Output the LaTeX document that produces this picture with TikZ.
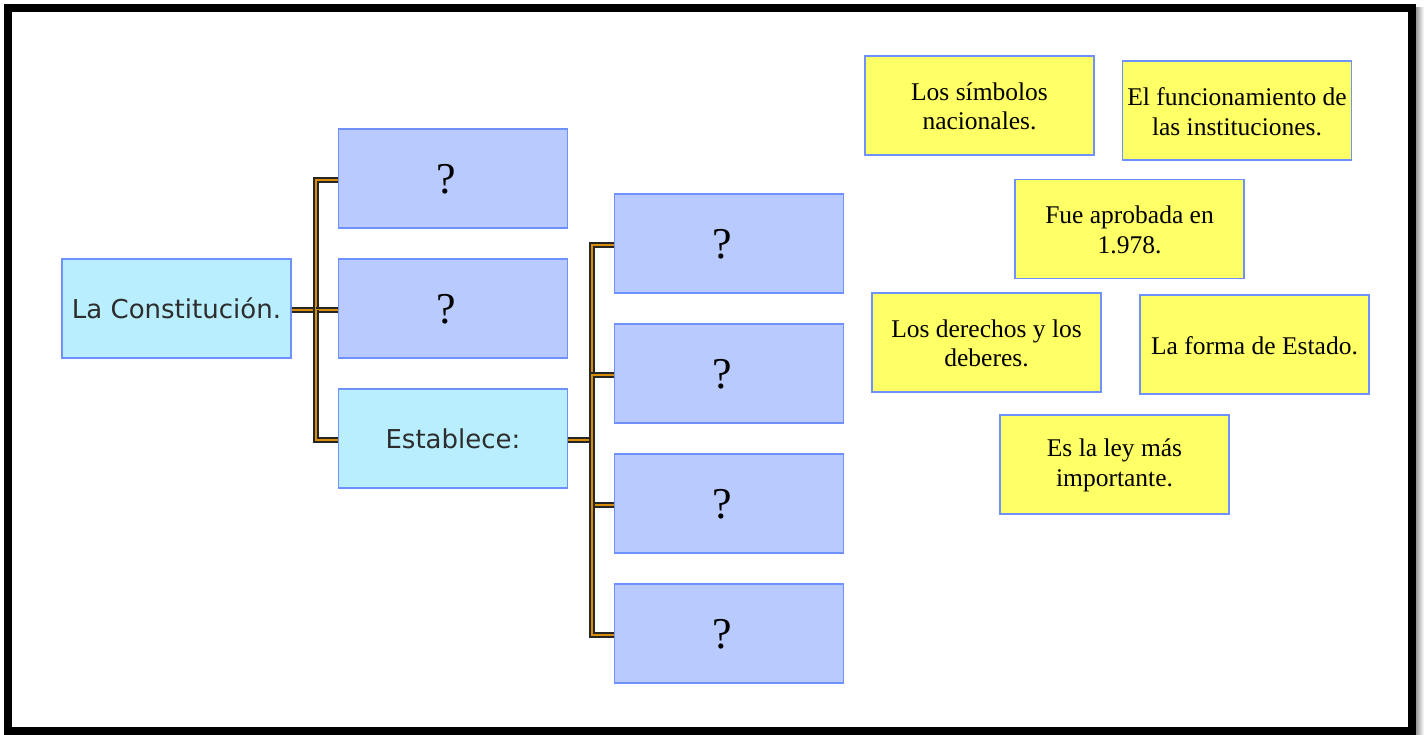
\documentclass[tikz,border=0pt]{standalone}
\usepackage{fontspec}
\setmainfont{Liberation Serif}
\newfontfamily\sansf{DejaVu Sans}
\definecolor{bordblue}{RGB}{110,145,255}
\definecolor{cyanfill}{RGB}{185,238,255}
\definecolor{lavfill}{RGB}{185,202,255}
\definecolor{yelfill}{RGB}{255,255,102}
\definecolor{txtgray}{RGB}{45,45,45}
\definecolor{linkorange}{RGB}{215,140,10}
\begin{document}
\begin{tikzpicture}[x=1pt,y=-1pt,
  box/.style={draw=bordblue, line width=1.3pt, minimum width=229pt, minimum height=99pt, inner sep=2pt, align=center, anchor=center},
  cyanbox/.style={box, fill=cyanfill, font=\sansf\fontsize{26}{30}\selectfont, text=txtgray},
  qbox/.style={box, fill=lavfill},
  qmark/.style={font=\fontsize{44}{48}\selectfont, inner sep=0pt, anchor=center},
  ybox/.style={box, fill=yelfill},
  ytext/.style={font=\fontsize{25.5}{29.5}\selectfont, align=center, inner sep=0pt, anchor=center},
  link/.style={draw=black!85, line width=1.5pt, double=linkorange, double distance=2.4pt}
]
\useasboundingbox (0,0) rectangle (1424,735);
\fill[white] (0,0) rectangle (1424,735);
\shade[left color=black!45, right color=white] (1415,8) rectangle (1424,735);
\draw[line width=8pt] (8,8) rectangle (1411.5,731);

% main column
\node[cyanbox] (con) at (176.5,308.5) {La Constitución.};
\node[qbox] (q1) at (453,178.5) {};
\node[qbox] (q2) at (453,308.5) {};
\node[cyanbox] (est) at (453,438.5) {Establece:};

% right column
\node[qbox] (r1) at (729,243.5) {};
\node[qbox] (r2) at (729,373.5) {};
\node[qbox] (r3) at (729,503.5) {};
\node[qbox] (r4) at (729,633.5) {};

\foreach \b in {q1,q2,r1,r2,r3,r4}
  \node[qmark] (\b m) at ([xshift=-7pt,yshift=-1pt]\b.center) {?};

% answer cards
\node[ybox] (y1) at (979.5,105.5) {};
\node[ybox] (y2) at (1237,110.5) {};
\node[ybox] (y3) at (1129.5,229) {};
\node[ybox] (y4) at (986.5,342.5) {};
\node[ybox] (y5) at (1254.5,344.5) {};
\node[ybox] (y6) at (1114.5,464.5) {};
\node[ytext] (t1) at ([yshift=-1pt]y1.center) {Los símbolos\\nacionales.};
\node[ytext] (t2) at ([yshift=-1pt]y2.center) {El funcionamiento de\\las instituciones.};
\node[ytext] (t3) at ([yshift=-1pt]y3.center) {Fue aprobada en\\1.978.};
\node[ytext] (t4) at ([yshift=-1pt]y4.center) {Los derechos y los\\deberes.};
\node[ytext] (t5) at ([yshift=-1pt]y5.center) {La forma de Estado.};
\node[ytext] (t6) at ([yshift=-1pt]y6.center) {Es la ley más\\importante.};

% connectors, left tree
\coordinate (j1) at (316,310);
\draw[link] (con.east |- j1) -- (j1);
\draw[link] (j1) |- (q1.west |- 0,180);
\draw[link] (j1) -- (q2.west |- j1);
\draw[link] (j1) |- (est.west |- 0,440);

% connectors, right tree
\coordinate (j2) at (592,440);
\draw[link] (est.east |- j2) -- (j2);
\draw[link] (j2) |- (r1.west |- 0,245);
\draw[link] (j2) |- (r2.west |- 0,375);
\draw[link] (j2) |- (r3.west |- 0,505);
\draw[link] (j2) |- (r4.west |- 0,635);
\end{tikzpicture}
\end{document}
